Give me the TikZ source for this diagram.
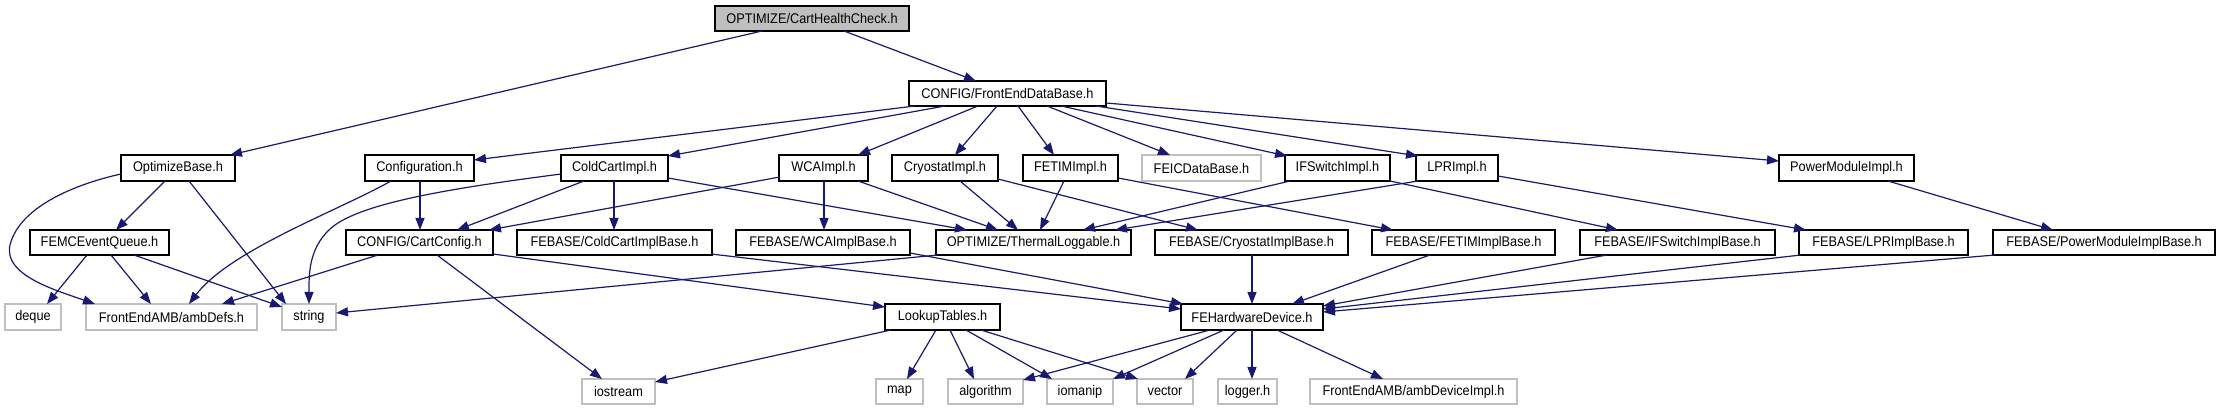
\documentclass[tikz,border=0pt]{standalone}
\usepackage{fontspec}
\setmainfont{Liberation Sans}[FakeStretch=0.91]
\usetikzlibrary{arrows.meta,calc}
\definecolor{edgeblue}{HTML}{191970}
\definecolor{extgray}{HTML}{BFBFBF}
\begin{document}
\begin{tikzpicture}[x=1pt,y=-1pt,
  box/.style={draw=black,line width=1.2pt,fill=white,inner sep=0pt,outer sep=0pt,
    font=\fontsize{14pt}{16pt}\selectfont,text=black},
  ext/.style={box,draw=extgray},
  rootbox/.style={box,fill=extgray},
  e/.style={draw=edgeblue,line width=1.2pt,-{Triangle[length=12pt,width=9pt]}}]
\useasboundingbox[fill=white] (0,0) rectangle (2220,411);
% row 0-1
\node[rootbox,minimum width=194pt,minimum height=25pt] (root) at (812,18.5) {OPTIMIZE/CartHealthCheck.h};
\node[box,minimum width=197pt,minimum height=25pt] (fedb) at (1007.5,93.5) {CONFIG/FrontEndDataBase.h};
% row 2
\node[box,minimum width=114pt,minimum height=26pt] (optbase) at (178,168) {OptimizeBase.h};
\node[box,minimum width=109pt,minimum height=26pt] (configuration) at (419.5,168) {Configuration.h};
\node[box,minimum width=107pt,minimum height=26pt] (coldcart) at (614.5,168) {ColdCartImpl.h};
\node[box,minimum width=89pt,minimum height=26pt] (wca) at (823.5,168) {WCAImpl.h};
\node[box,minimum width=106pt,minimum height=26pt] (cryo) at (945,168) {CryostatImpl.h};
\node[box,minimum width=95pt,minimum height=26pt] (fetim) at (1070.5,168) {FETIMImpl.h};
\node[ext,minimum width=119pt,minimum height=26pt] (feic) at (1201.5,168) {FEICDataBase.h};
\node[box,minimum width=105pt,minimum height=26pt] (ifswitch) at (1337.5,168) {IFSwitchImpl.h};
\node[box,minimum width=82pt,minimum height=26pt] (lpr) at (1457,168) {LPRImpl.h};
\node[box,minimum width=135pt,minimum height=26pt] (power) at (1846.5,168) {PowerModuleImpl.h};
% row 3
\node[box,minimum width=139pt,minimum height=25pt] (femc) at (99.5,242.5) {FEMCEventQueue.h};
\node[box,minimum width=147pt,minimum height=25pt] (cartconfig) at (419.5,242.5) {CONFIG/CartConfig.h};
\node[box,minimum width=195pt,minimum height=25pt] (coldcartbase) at (614.5,242.5) {FEBASE/ColdCartImplBase.h};
\node[box,minimum width=174pt,minimum height=25pt] (wcabase) at (823,242.5) {FEBASE/WCAImplBase.h};
\node[box,minimum width=195pt,minimum height=25pt] (thermal) at (1033.5,242.5) {OPTIMIZE/ThermalLoggable.h};
\node[box,minimum width=193pt,minimum height=25pt] (cryobase) at (1251.5,242.5) {FEBASE/CryostatImplBase.h};
\node[box,minimum width=183pt,minimum height=25pt] (fetimbase) at (1463.5,242.5) {FEBASE/FETIMImplBase.h};
\node[box,minimum width=195pt,minimum height=25pt] (ifswitchbase) at (1677.5,242.5) {FEBASE/IFSwitchImplBase.h};
\node[box,minimum width=169pt,minimum height=25pt] (lprbase) at (1883.5,242.5) {FEBASE/LPRImplBase.h};
\node[box,minimum width=222pt,minimum height=25pt] (powerbase) at (2104,242.5) {FEBASE/PowerModuleImplBase.h};
% row 4
\node[ext,minimum width=56pt,minimum height=26pt] (deque) at (33,317) {deque};
\node[ext,minimum width=171pt,minimum height=26pt] (ambdefs) at (171.5,317) {FrontEndAMB/ambDefs.h};
\node[ext,minimum width=54pt,minimum height=26pt] (string) at (309,317) {string};
\node[box,minimum width=115pt,minimum height=26pt] (lookup) at (942.5,317) {LookupTables.h};
\node[box,minimum width=142pt,minimum height=26pt] (fehw) at (1252,317) {FEHardwareDevice.h};
% row 5
\node[ext,minimum width=73pt,minimum height=25pt] (iostream) at (618.5,391.5) {iostream};
\node[ext,minimum width=47pt,minimum height=25pt] (map) at (899.5,391.5) {map};
\node[ext,minimum width=75pt,minimum height=25pt] (algorithm) at (985.5,391.5) {algorithm};
\node[ext,minimum width=66pt,minimum height=25pt] (iomanip) at (1080,391.5) {iomanip};
\node[ext,minimum width=56pt,minimum height=25pt] (vector) at (1165,391.5) {vector};
\node[ext,minimum width=59pt,minimum height=25pt] (logger) at (1247.5,391.5) {logger.h};
\node[ext,minimum width=207pt,minimum height=25pt] (ambdev) at (1413.5,391.5) {FrontEndAMB/ambDeviceImpl.h};
% edges
\draw[e] ($(root.north west)+(47,25)$) -- ($(optbase.north west)+(109,0)$);
\draw[e] ($(root.north west)+(129,25)$) -- ($(fedb.north west)+(67,0)$);
\draw[e] ($(fedb.north west)+(6,25)$) -- ($(configuration.north west)+(109,5)$);
\draw[e] ($(fedb.north west)+(36,25)$) -- ($(coldcart.north west)+(107,1)$);
\draw[e] ($(fedb.north west)+(69,25)$) -- ($(wca.north west)+(79,0)$);
\draw[e] ($(fedb.north west)+(88,25)$) -- ($(cryo.north west)+(63,0)$);
\draw[e] ($(fedb.north west)+(109,25)$) -- ($(fetim.north west)+(31,0)$);
\draw[e] ($(fedb.north west)+(138,25)$) -- ($(feic.north west)+(28,0)$);
\draw[e] ($(fedb.north west)+(152,25)$) -- ($(ifswitch.north west)+(2,1)$);
\draw[e] ($(fedb.north west)+(187,25)$) -- ($(lpr.north west)+(2,1)$);
\draw[e] ($(fedb.north west)+(197,22)$) -- ($(power.north west)+(0,6)$);
\draw[e] ($(optbase.north west)+(44,26)$) -- ($(femc.north west)+(86,0)$);
\draw[e] ($(optbase.north west)+(0,19)$) .. controls (80,183) and (20,205) .. (10,245)
  .. controls (3,275) and (55,290) .. ($(ambdefs.north west)+(9,0)$);
\draw[e] ($(optbase.north west)+(68,26)$) -- ($(string.north west)+(4,0)$);
\draw[e] ($(femc.north west)+(57,25)$) -- ($(deque.north west)+(42,0)$);
\draw[e] ($(femc.north west)+(81,25)$) -- ($(ambdefs.north west)+(65,0)$);
\draw[e] ($(femc.north west)+(104,25)$) -- ($(string.north west)+(0,3)$);
\draw[e] ($(configuration.north west)+(55,26)$) -- ($(cartconfig.north west)+(74,0)$);
\draw[e] ($(configuration.north west)+(26,26)$) .. controls (340,210) and (230,250) .. ($(ambdefs.north west)+(103,0)$);
\draw[e] ($(coldcart.north west)+(0,19)$) .. controls (470,186) and (370,200) .. (335,225)
  .. controls (308,245) and (309,275) .. ($(string.north west)+(27,0)$);
\draw[e] ($(coldcart.north west)+(23,26)$) -- ($(cartconfig.north west)+(111,0)$);
\draw[e] ($(coldcart.north west)+(53,26)$) -- ($(coldcartbase.north west)+(97,0)$);
\draw[e] ($(coldcart.north west)+(107,23)$) -- ($(thermal.north west)+(31,0)$);
\draw[e] ($(wca.north west)+(1,22)$) -- ($(cartconfig.north west)+(143,0)$);
\draw[e] ($(wca.north west)+(45,26)$) -- ($(wcabase.north west)+(88,0)$);
\draw[e] ($(wca.north west)+(79,26)$) -- ($(thermal.north west)+(62,0)$);
\draw[e] ($(cryo.north west)+(68,26)$) -- ($(thermal.north west)+(82,0)$);
\draw[e] ($(cryo.north west)+(106,24)$) -- ($(cryobase.north west)+(43,0)$);
\draw[e] ($(fetim.north west)+(41,26)$) -- ($(thermal.north west)+(104,0)$);
\draw[e] ($(fetim.north west)+(95,23)$) -- ($(fetimbase.north west)+(21,0)$);
\draw[e] ($(ifswitch.north west)+(5,26)$) -- ($(thermal.north west)+(147,0)$);
\draw[e] ($(ifswitch.north west)+(105,26)$) -- ($(ifswitchbase.north west)+(38,0)$);
\draw[e] ($(lpr.north west)+(2,26)$) -- ($(thermal.north west)+(179,0)$);
\draw[e] ($(lpr.north west)+(82,21)$) -- ($(lprbase.north west)+(7,0)$);
\draw[e] ($(power.north west)+(109,26)$) -- ($(powerbase.north west)+(60,0)$);
\draw[e] ($(cartconfig.north west)+(32,25)$) -- ($(ambdefs.north west)+(136,0)$);
\draw[e] ($(cartconfig.north west)+(91,25)$) -- ($(iostream.north west)+(20,0)$);
\draw[e] ($(cartconfig.north west)+(147,24)$) -- ($(lookup.north west)+(0,3)$);
\draw[e] ($(coldcartbase.north west)+(194,24)$) -- ($(fehw.north west)+(0,5)$);
\draw[e] ($(wcabase.north west)+(174,23)$) -- ($(fehw.north west)+(2,0)$);
\draw[e] ($(thermal.north west)+(2,25)$) -- ($(string.north west)+(54,9)$);
\draw[e] ($(cryobase.north west)+(97,25)$) -- ($(fehw.north west)+(71,0)$);
\draw[e] ($(fetimbase.north west)+(58,25)$) -- ($(fehw.north west)+(111,0)$);
\draw[e] ($(ifswitchbase.north west)+(27,25)$) -- ($(fehw.north west)+(142,2)$);
\draw[e] ($(lprbase.north west)+(2,25)$) -- ($(fehw.north west)+(142,5)$);
\draw[e] ($(powerbase.north west)+(2,25)$) -- ($(fehw.north west)+(142,8)$);
\draw[e] ($(lookup.north west)+(6,26)$) -- ($(iostream.north west)+(73,3)$);
\draw[e] ($(lookup.north west)+(51,26)$) -- ($(map.north west)+(31,0)$);
\draw[e] ($(lookup.north west)+(65,26)$) -- ($(algorithm.north west)+(26,0)$);
\draw[e] ($(lookup.north west)+(81,26)$) -- ($(iomanip.north west)+(5,0)$);
\draw[e] ($(lookup.north west)+(96,26)$) -- ($(vector.north west)+(1,0)$);
\draw[e] ($(fehw.north west)+(29,26)$) -- ($(algorithm.north west)+(75,1)$);
\draw[e] ($(fehw.north west)+(43,26)$) -- ($(iomanip.north west)+(66,0)$);
\draw[e] ($(fehw.north west)+(56,26)$) -- ($(vector.north west)+(48,0)$);
\draw[e] ($(fehw.north west)+(71,26)$) -- ($(logger.north west)+(34,0)$);
\draw[e] ($(fehw.north west)+(96,26)$) -- ($(ambdev.north west)+(73,0)$);
\end{tikzpicture}
\end{document}
